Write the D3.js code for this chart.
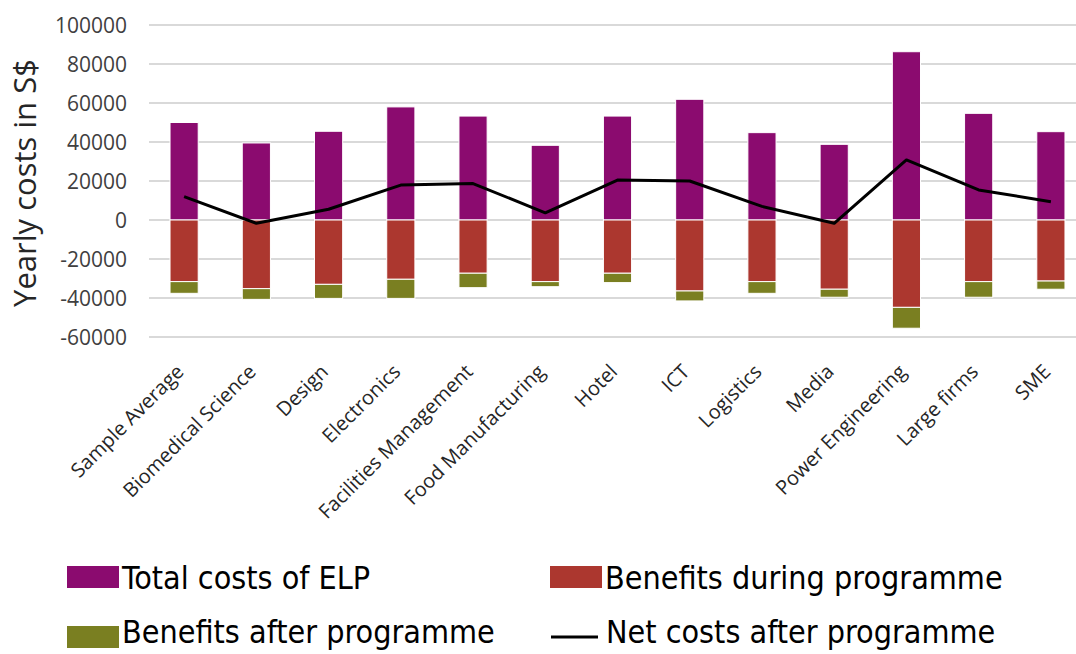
<!DOCTYPE html>
<html>
<head>
<meta charset="utf-8">
<script src="https://cdn.jsdelivr.net/npm/d3@7"></script>
<style>
  body { margin: 0; background: #fff; }
  svg { display: block; }
</style>
</head>
<body>
<svg></svg>
<script>
var width = 1076, height = 654;

// Data
var categories = ["Sample Average", "Biomedical Science", "Design", "Electronics",
    "Facilities Management", "Food Manufacturing", "Hotel", "ICT", "Logistics",
    "Media", "Power Engineering", "Large firms", "SME"];
var totalCosts      = [50000, 39500, 45500, 58000, 53300, 38300, 53300, 61900, 44800, 38800, 86300, 54700, 45300];
var benefitsDuring  = [-31600, -35200, -33000, -30400, -27300, -31600, -27300, -36400, -31600, -35500, -44800, -31600, -31300];
var benefitsAfter   = [-6000, -5500, -7200, -9800, -7400, -2600, -4800, -5100, -6000, -4100, -10700, -8000, -4200];
var netCosts        = [12000, -1700, 5500, 17900, 18700, 3700, 20500, 20000, 7000, -1700, 30800, 15400, 9400];
var yTicks = [-60000, -40000, -20000, 0, 20000, 40000, 60000, 80000, 100000];

var colors = { total: "#8b0b6f", during: "#ac372f", after: "#7a7f21" };

var svg = d3.select("svg")
    .attr("width", width)
    .attr("height", height);

var x = d3.scaleBand()
    .domain(categories)
    .range([148, 1087])
    .paddingInner(0.61)
    .paddingOuter(0.305);

var y = d3.scaleLinear()
    .domain([-60000, 100000])
    .range([337, 25]);

// gridlines
svg.append("g")
    .selectAll("line")
    .data(yTicks)
    .join("line")
    .attr("x1", 149)
    .attr("x2", 1087)
    .attr("y1", d => y(d))
    .attr("y2", d => y(d))
    .attr("stroke", "#d9d9d9")
    .attr("stroke-width", 2);

// y tick labels
svg.append("g")
    .selectAll("text")
    .data(yTicks)
    .join("text")
    .attr("x", 127)
    .attr("y", d => y(d))
    .attr("dy", "0.36em")
    .attr("text-anchor", "end")
    .attr("font-family", "Open Sans")
    .attr("font-size", 21)
    .attr("fill", "#404040")
    .text(d => d);

// y axis title
svg.append("text")
    .attr("transform", "translate(36,183) rotate(-90)")
    .attr("text-anchor", "middle")
    .attr("font-family", "Open Sans")
    .attr("font-size", 31)
    .attr("fill", "#262626")
    .text("Yearly costs in S$");

// bars
var bars = svg.append("g");
var stacks = [
    { vals: totalCosts, color: colors.total, base: categories.map(() => 0) },
    { vals: benefitsDuring, color: colors.during, base: categories.map(() => 0) },
    { vals: benefitsAfter, color: colors.after, base: benefitsDuring }
];
stacks.forEach(function(s) {
    bars.append("g")
        .selectAll("rect")
        .data(categories)
        .join("rect")
        .attr("x", d => x(d))
        .attr("width", x.bandwidth())
        .attr("y", (d, i) => y(Math.max(s.base[i], s.base[i] + s.vals[i])))
        .attr("height", (d, i) => Math.abs(y(s.base[i]) - y(s.base[i] + s.vals[i])))
        .attr("fill", s.color)
        .attr("stroke", "#fff")
        .attr("stroke-width", 1);
});

// net cost line
var line = d3.line()
    .x((d, i) => x(categories[i]) + x.bandwidth() / 2)
    .y(d => y(d));

svg.append("path")
    .datum(netCosts)
    .attr("d", line)
    .attr("fill", "none")
    .attr("stroke", "#000")
    .attr("stroke-width", 3)
    .attr("stroke-linejoin", "round");

// category labels
svg.append("g")
    .selectAll("text")
    .data(categories)
    .join("text")
    .attr("transform", d => "translate(" + (x(d) + x.bandwidth() / 2 - 4) + ",368) rotate(-45)")
    .attr("text-anchor", "end")
    .attr("dy", "0.35em")
    .attr("font-family", "Open Sans")
    .attr("font-size", 20)
    .attr("fill", "#262626")
    .text(d => d);

// legend
var legendItems = [
    { label: "Total costs of ELP", color: colors.total, type: "rect", x: 67, y: 577, ty: 0 },
    { label: "Benefits during programme", color: colors.during, type: "rect", x: 550, y: 577, ty: 0 },
    { label: "Benefits after programme", color: colors.after, type: "rect", x: 67, y: 637, ty: -6 },
    { label: "Net costs after programme", color: "#000", type: "line", x: 551, y: 637, ty: -6 }
];

var legend = svg.append("g")
    .selectAll("g")
    .data(legendItems)
    .join("g")
    .attr("transform", d => "translate(" + d.x + "," + d.y + ")");

legend.filter(d => d.type == "rect")
    .append("rect")
    .attr("x", 0)
    .attr("y", -11)
    .attr("width", 52)
    .attr("height", 22)
    .attr("fill", d => d.color);

legend.filter(d => d.type == "line")
    .append("line")
    .attr("x1", 0)
    .attr("x2", 47)
    .attr("stroke", "#000")
    .attr("stroke-width", 3);

legend.append("text")
    .attr("x", 55)
    .attr("y", d => d.ty)
    .attr("dy", "0.36em")
    .attr("font-family", "DejaVu Sans Condensed")
    .attr("font-stretch", "condensed")
    .attr("font-size", 32)
    .attr("fill", "#000")
    .text(d => d.label);
</script>
</body>
</html>
